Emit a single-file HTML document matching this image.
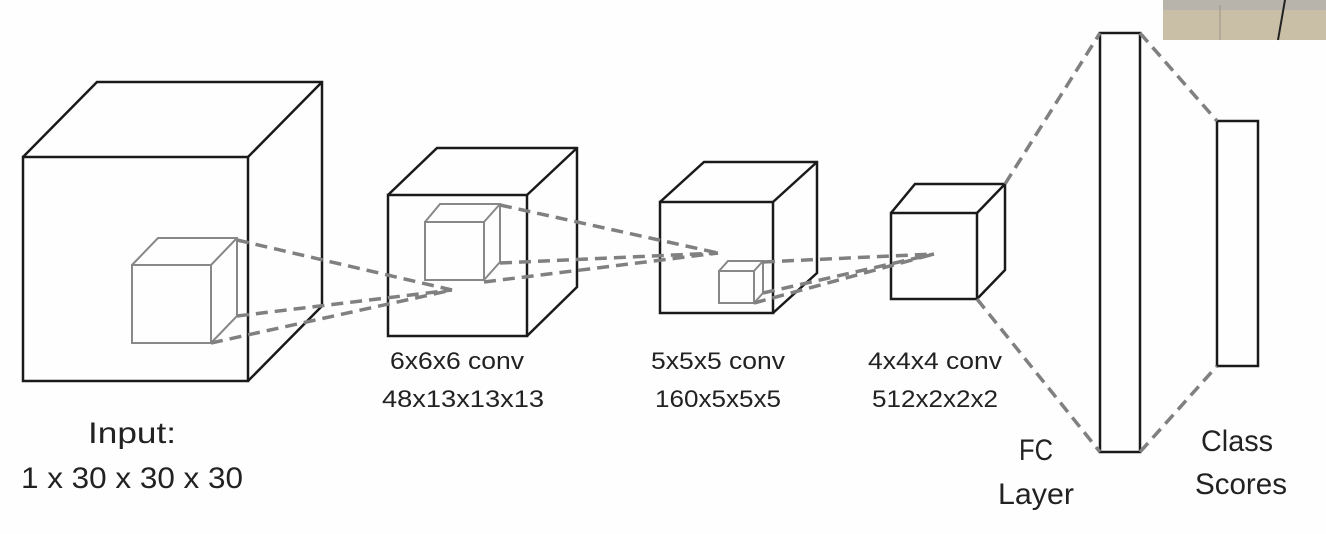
<!DOCTYPE html>
<html><head><meta charset="utf-8"><style>
html,body{margin:0;padding:0;background:#fff;}
svg{display:block;}
text{font-family:"Liberation Sans",sans-serif;fill:#222;}
</style></head><body>
<svg width="1326" height="534" viewBox="0 0 1326 534" xmlns="http://www.w3.org/2000/svg">
<rect width="1326" height="534" fill="#fefefe"/>
<rect x="1163" y="0" width="163" height="40" fill="#c9bfa6"/>
<rect x="1163" y="0" width="163" height="10" fill="#b8b4ac"/>
<line x1="1285" y1="0" x2="1278" y2="40" stroke="#222" stroke-width="2"/>
<line x1="1220" y1="5" x2="1220" y2="40" stroke="#9a9486" stroke-width="1"/>

<g fill="none" stroke="#1a1a1a" stroke-width="2.5" stroke-linejoin="miter">
<rect x="23" y="157" width="225" height="224"/>
<polyline points="23,157 97,82 322,82 322,306 248,381"/>
<line x1="248" y1="157" x2="322" y2="82"/>
<rect x="388" y="195" width="139" height="141"/>
<polyline points="388,195 437,148 577,148 577,287 527,336"/>
<line x1="527" y1="195" x2="577" y2="148"/>
<rect x="660" y="202" width="113" height="111"/>
<polyline points="660,202 704,162 817,162 817,273 773,313"/>
<line x1="773" y1="202" x2="817" y2="162"/>
<rect x="891" y="213" width="86" height="86"/>
<polyline points="891,213 915,184 1005,184 1005,270 977,299"/>
<line x1="977" y1="213" x2="1005" y2="184"/>
<rect x="1100" y="33" width="40" height="419"/>
<rect x="1217" y="121" width="41" height="245"/>
</g>

<g fill="none" stroke="#888" stroke-width="2">
<rect x="132" y="265" width="79" height="78"/>
<polyline points="132,265 158,238 237,238 237,316 211,343"/>
<line x1="211" y1="265" x2="237" y2="238"/>
<rect x="425" y="222" width="59" height="58"/>
<polyline points="425,222 440,204 500,204 500,262 484,280"/>
<line x1="484" y1="222" x2="500" y2="204"/>
<rect x="719" y="271" width="35" height="32"/>
<polyline points="719,271 728,261 763,261 763,293 754,303"/>
<line x1="754" y1="271" x2="763" y2="261"/>
</g>

<g fill="none" stroke="#808080" stroke-width="3.5" stroke-dasharray="12,7">
<line x1="237" y1="240" x2="452" y2="290"/>
<line x1="237" y1="316" x2="452" y2="290"/>
<line x1="211" y1="343" x2="452" y2="290"/>
<line x1="500" y1="205" x2="718" y2="253"/>
<line x1="500" y1="263" x2="718" y2="253"/>
<line x1="484" y1="282" x2="718" y2="253"/>
<line x1="763" y1="262" x2="934" y2="254"/>
<line x1="763" y1="293" x2="934" y2="254"/>
<line x1="754" y1="303" x2="934" y2="254"/>
<line x1="1005" y1="184" x2="1100" y2="33"/>
<line x1="977" y1="299" x2="1100" y2="452"/>
<line x1="1140" y1="33" x2="1217" y2="121"/>
<line x1="1140" y1="452" x2="1217" y2="366"/>
</g>

<g text-anchor="middle">
<text x="132" y="443" font-size="30" textLength="88" lengthAdjust="spacingAndGlyphs">Input:</text>
<text x="132" y="488" font-size="30" textLength="222" lengthAdjust="spacingAndGlyphs">1 x 30 x 30 x 30</text>
<text x="457" y="369" font-size="24" textLength="134" lengthAdjust="spacingAndGlyphs">6x6x6 conv</text>
<text x="463" y="407" font-size="24" textLength="162" lengthAdjust="spacingAndGlyphs">48x13x13x13</text>
<text x="718" y="369" font-size="24" textLength="134" lengthAdjust="spacingAndGlyphs">5x5x5 conv</text>
<text x="718" y="407" font-size="24" textLength="126" lengthAdjust="spacingAndGlyphs">160x5x5x5</text>
<text x="935" y="369" font-size="24" textLength="134" lengthAdjust="spacingAndGlyphs">4x4x4 conv</text>
<text x="935" y="407" font-size="24" textLength="126" lengthAdjust="spacingAndGlyphs">512x2x2x2</text>
<text x="1036" y="460" font-size="30" textLength="34" lengthAdjust="spacingAndGlyphs">FC</text>
<text x="1036" y="504" font-size="30" textLength="76" lengthAdjust="spacingAndGlyphs">Layer</text>
<text x="1237" y="451" font-size="30" textLength="72" lengthAdjust="spacingAndGlyphs">Class</text>
<text x="1241" y="494" font-size="30" textLength="92" lengthAdjust="spacingAndGlyphs">Scores</text>
</g>
</svg>
</body></html>
